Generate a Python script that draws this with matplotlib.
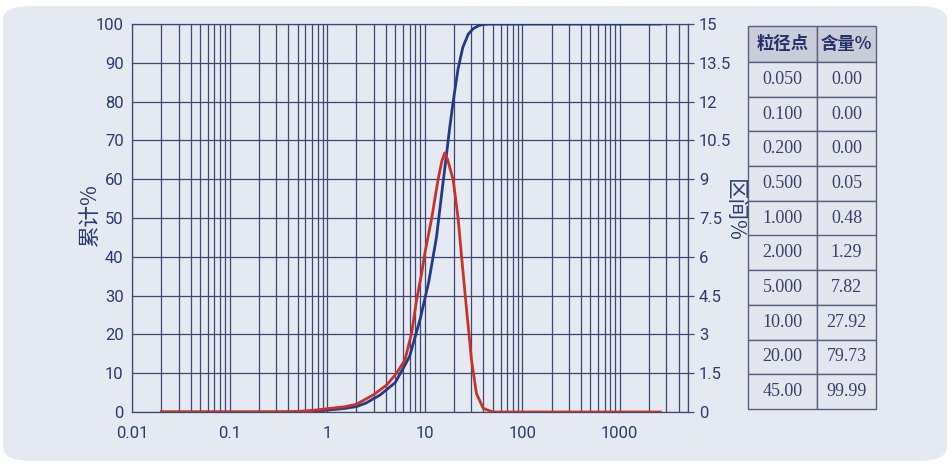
import matplotlib
matplotlib.use("Agg")
import matplotlib.pyplot as plt
from matplotlib.patches import FancyBboxPatch, Rectangle
from matplotlib.ticker import LogLocator, NullFormatter

# cumulative curve (left axis, %)
cum_size = [0.02, 0.1, 0.3, 0.5, 0.8, 1.0, 1.5, 2.0, 2.5, 3.5, 5.0, 7.0, 9.0,
            10.0, 11.0, 12.2, 13.2, 14.9, 16.75, 18.1, 19.6, 22.0, 24.6, 28.0,
            31.4, 36.0, 40.0, 50.0, 100.0, 2600.0]
cum_val = [0, 0, 0.02, 0.05, 0.3, 0.5, 0.9, 1.4, 2.3, 4.4, 7.6, 14.3, 24.0,
           29.0, 33.5, 40.0, 45.0, 56.0, 66.5, 73.5, 80.0, 88.5, 94.0, 97.4,
           98.8, 99.6, 99.9, 100, 100, 100]

# interval curve (right axis, %)
int_size = [0.02, 0.1, 0.3, 0.45, 0.7, 1.07, 1.5, 2.0, 2.97, 4.07, 5.15, 6.27,
            7.34, 8.26, 9.3, 10.05, 11.8, 13.7, 15.0, 16.1, 17.2, 19.6, 22.0,
            23.9, 26.9, 30.2, 33.9, 39.8, 50.0, 100.0, 2600.0]
int_val = [0, 0, 0, 0.01, 0.06, 0.14, 0.2, 0.3, 0.66, 1.04, 1.5, 2.01,
           3.04, 4.33, 5.35, 6.15, 7.49, 8.97, 9.7, 10.02, 9.75, 8.97, 7.49,
           6.0, 3.94, 2.01, 0.72, 0.14, 0, 0, 0]

# table
tbl_head = ["粒径点", "含量%"]
tbl_size = ["0.050", "0.100", "0.200", "0.500", "1.000", "2.000", "5.000",
            "10.00", "20.00", "45.00"]
tbl_pct = ["0.00", "0.00", "0.00", "0.05", "0.48", "1.29", "7.82",
           "27.92", "79.73", "99.99"]

left_ticks = list(range(0, 101, 10))
right_ticks = [0, 1.5, 3, 4.5, 6, 7.5, 9, 10.5, 12, 13.5, 15]
right_labels = ["0", "1.5", "3", "4.5", "6", "7.5", "9", "10.5", "12", "13.5", "15"]
x_ticks = [0.01, 0.1, 1, 10, 100, 1000]
x_labels = ["0.01", "0.1", "1", "10", "100", "1000"]

W, H = 952, 467
bg = "#e5e9f2"
navy = "#2b3b70"
gridc = "#3f4870"
numfont = ["Roboto", "DejaVu Sans"]
cjk = ["Noto Sans CJK SC", "DejaVu Sans"]

fig = plt.figure(figsize=(W / 100, H / 100), dpi=100, facecolor="white")
panel = FancyBboxPatch((3 / W, 6 / H), 944 / W, 455 / H,
                       boxstyle="round,pad=0,rounding_size=0.03",
                       transform=fig.transFigure, facecolor=bg, edgecolor="none",
                       zorder=-10)
fig.patches.append(panel)

ax = fig.add_axes([132 / W, 1 - 412 / H, (688 - 132) / W, (412 - 24) / H])
ax.set_facecolor(bg)
ax.set_xscale("log")
ax.set_xlim(0.01, 5000)
ax.set_ylim(0, 100)
ax.set_yticks(left_ticks)
ax.set_xticks(x_ticks)
ax.set_xticklabels(x_labels)
ax.xaxis.set_minor_locator(LogLocator(base=10, subs=range(2, 10), numticks=20))
ax.xaxis.set_minor_formatter(NullFormatter())
ax.grid(True, which="both", axis="x", color=gridc, lw=0.9)
ax.grid(True, which="major", axis="y", color=gridc, lw=0.9)
ax.tick_params(axis="both", which="both", length=0, colors=navy, labelsize=12)
ax.tick_params(axis="x", pad=10)
ax.tick_params(axis="y", pad=6)
for lab in ax.get_xticklabels() + ax.get_yticklabels():
    lab.set_family(numfont)
for s in ax.spines.values():
    s.set_color(gridc)
    s.set_linewidth(0.9)
ax.set_ylabel("累计%", family=cjk, fontsize=15.5, color=navy, va="center")
ax.yaxis.set_label_coords((90 - 132) / 556, 0.51)

ax.plot(cum_size, cum_val, color="#233a86", lw=2, zorder=5)

ax2 = ax.twinx()
ax2.set_ylim(0, 15)
ax2.set_yticks(right_ticks)
ax2.set_yticklabels(right_labels)
ax2.tick_params(axis="y", length=4, width=0.9, color=gridc, colors=navy,
                labelsize=12, pad=4)
for lab in ax2.get_yticklabels():
    lab.set_family(numfont)
for s in ax2.spines.values():
    s.set_visible(False)
ax2.set_ylabel("区间%", family=cjk, fontsize=15.5, color=navy, rotation=-90,
               va="center")
ax2.yaxis.set_label_coords((734 - 132) / 556, 0.52)
ax2.plot(int_size, int_val, color="#cc3129", lw=2, zorder=5)

# table on the right
x0, xm, x1 = 748, 817, 876
top, hh, rh = 26, 36, 34.7
edge = "#5a6080"


def fx(px):
    return px / W


def fy(py):
    return 1 - py / H


for j, (a, b) in enumerate(zip([x0, xm], [xm, x1])):
    fig.patches.append(Rectangle((fx(a), fy(top + hh)), (b - a) / W, hh / H,
                                 transform=fig.transFigure, facecolor="#c9cdd9",
                                 edgecolor=edge, lw=1))
    fig.text(fx((a + b) / 2), fy(top + hh / 2), tbl_head[j], family=cjk,
             fontsize=12.5, weight="bold", color="#26306a", ha="center", va="center")

for i, (sz, pc) in enumerate(zip(tbl_size, tbl_pct)):
    y = top + hh + i * rh
    for a, b, t in [(x0, xm, sz), (xm, x1, pc)]:
        fig.patches.append(Rectangle((fx(a), fy(y + rh)), (b - a) / W, rh / H,
                                     transform=fig.transFigure, facecolor="#e3e6ef",
                                     edgecolor=edge, lw=1))
        fig.text(fx((a + b) / 2), fy(y + rh / 2), t, family="Liberation Serif",
                 fontsize=13, color="#39406a", ha="center", va="center")

fig.savefig("out.png", dpi=100, facecolor="white")
